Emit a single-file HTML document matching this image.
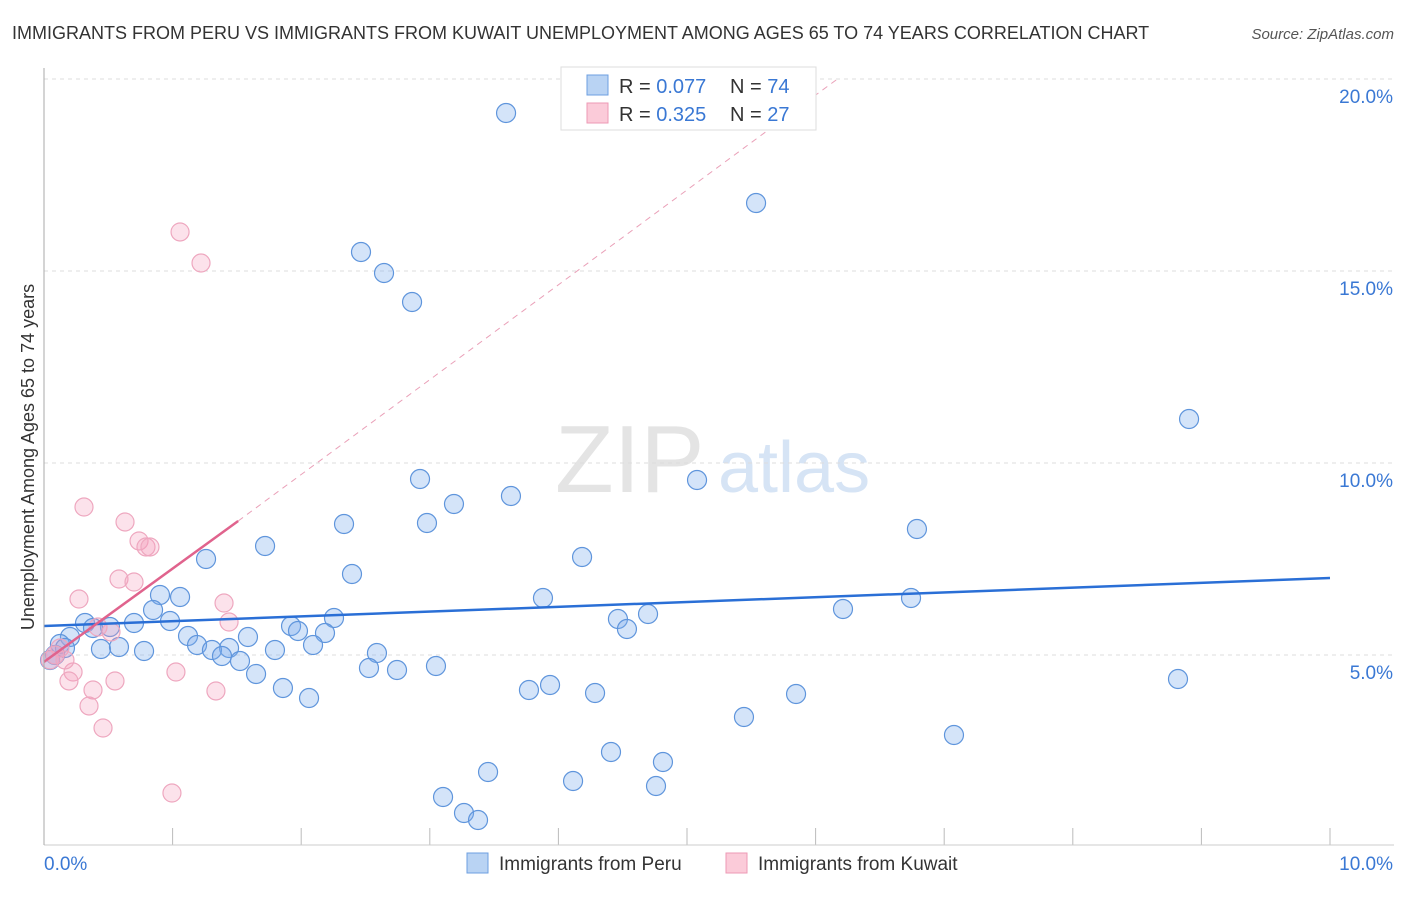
<!DOCTYPE html>
<html><head><meta charset="utf-8"><style>
body{margin:0;background:#fff;font-family:"Liberation Sans",sans-serif;}
svg text{font-family:"Liberation Sans",sans-serif;}
</style></head><body>
<svg id="chart" width="1406" height="892" viewBox="0 0 1406 892">
<text x="12" y="39" font-size="18" fill="#333">IMMIGRANTS FROM PERU VS IMMIGRANTS FROM KUWAIT UNEMPLOYMENT AMONG AGES 65 TO 74 YEARS CORRELATION CHART</text>
<text x="1394" y="39" font-size="15" fill="#555" font-style="italic" text-anchor="end">Source: ZipAtlas.com</text>
<text x="34" y="457" font-size="18" fill="#333" text-anchor="middle" transform="rotate(-90 34 457)">Unemployment Among Ages 65 to 74 years</text>
<text x="555" y="492" font-size="96" fill="#e4e4e4" font-family="Liberation Serif">ZIP</text>
<text x="718" y="492" font-size="72" fill="#d6e4f5">atlas</text>
<g id="grid"></g><g id="pts"></g><g id="lines"></g><g id="axes"></g>
<g>
<rect x="561" y="67" width="255" height="63" fill="#fff" stroke="#ddd"/>
<rect x="587" y="75" width="21" height="20" fill="#b9d3f3" stroke="#6d9fe0"/>
<rect x="587" y="103" width="21" height="20" fill="#fbcbd9" stroke="#ee9ab5"/>
<text x="619" y="93" font-size="20" fill="#333">R = <tspan fill="#3a78d4">0.077</tspan></text>
<text x="730" y="93" font-size="20" fill="#333">N = <tspan fill="#3a78d4">74</tspan></text>
<text x="619" y="121" font-size="20" fill="#333">R = <tspan fill="#3a78d4">0.325</tspan></text>
<text x="730" y="121" font-size="20" fill="#333">N = <tspan fill="#3a78d4">27</tspan></text>
</g>
<g>
<rect x="467" y="853" width="21" height="20" fill="#b9d3f3" stroke="#6d9fe0"/>
<text x="499" y="870" font-size="19" fill="#333">Immigrants from Peru</text>
<rect x="726" y="853" width="21" height="20" fill="#fbcbd9" stroke="#ee9ab5"/>
<text x="758" y="870" font-size="19" fill="#333">Immigrants from Kuwait</text>
</g>
</svg>
<script>
const peruPx=[[506,113],[756,203],[361,252],[384,273],[412,302],[1189,419],[420,479],[697,480],[511,496],[454,504],[344,524],[427,523],[917,529],[265,546],[582,557],[206,559],[352,574],[160,595],[180,597],[543,598],[911,598],[153,610],[843,609],[648,614],[170,621],[334,618],[618,619],[85,623],[134,623],[110,627],[93,628],[291,626],[298,631],[627,629],[325,633],[188,636],[248,637],[70,637],[197,645],[313,645],[101,649],[119,647],[229,648],[144,651],[212,650],[275,650],[377,653],[222,656],[240,661],[60,644],[65,648],[50,660],[55,655],[369,668],[397,670],[436,666],[256,674],[1178,679],[283,688],[550,685],[529,690],[595,693],[309,698],[796,694],[744,717],[954,735],[611,752],[663,762],[488,772],[573,781],[656,786],[443,797],[464,813],[478,820]];
const kuwaitPx=[[84,507],[180,232],[201,263],[125,522],[139,541],[146,547],[150,547],[119,579],[134,582],[79,599],[224,603],[229,622],[111,632],[98,627],[60,648],[55,655],[50,660],[73,672],[176,672],[69,681],[115,681],[93,690],[216,691],[89,706],[103,728],[172,793],[65,660]];
// data values (x in %, y in %) derived from reading the picture
const peruX=peruPx.map(p=>+((p[0]-44)/128.6).toFixed(3));
const peruY=peruPx.map(p=>+((847-p[1])/38.4).toFixed(3));
const kuwaitX=kuwaitPx.map(p=>+((p[0]-44)/128.6).toFixed(3));
const kuwaitY=kuwaitPx.map(p=>+((847-p[1])/38.4).toFixed(3));
const yTicks=[5,10,15,20];
const yTickLabels=["5.0%","10.0%","15.0%","20.0%"];
const peruTrend=[[0,5.755],[10,7.005]];
const kuwaitTrend=[[0,4.82],[1.51,8.49]];
const kuwaitTrendExt=[[1.51,8.49],[6.17,20.0]];
const X=v=>44+v*128.6, Y=v=>847-v*38.4;
const NS="http://www.w3.org/2000/svg";
function mk(tag,attrs,parent){const e=document.createElementNS(NS,tag);for(const k in attrs)e.setAttribute(k,attrs[k]);parent.appendChild(e);return e;}
const grid=document.getElementById('grid'),pts=document.getElementById('pts'),lines=document.getElementById('lines'),axes=document.getElementById('axes');
yTicks.forEach((t,i)=>{
 const l=mk('line',{x1:44,x2:1394,y1:Y(t),y2:Y(t),stroke:'#ddd','stroke-dasharray':'4,4'},grid);
 
 
 const tx=mk('text',{x:1393,y:Y(t)+24,'font-size':19,fill:'#3a78d4','text-anchor':'end'},axes);
 tx.textContent=yTickLabels[i];
 
 
});
for(let i=0;i<=10;i++){
 const l=mk('line',{x1:X(i),x2:X(i),y1:828,y2:845,stroke:'#bbb'},axes);
 
 
}
const ax=mk('line',{x1:44,x2:1394,y1:845,y2:845,stroke:'#ccc'},axes);


const ay=mk('line',{x1:44,x2:44,y1:68,y2:845,stroke:'#aaa'},axes);


const x0=mk('text',{x:44,y:870,'font-size':19,fill:'#3a78d4'},axes);x0.textContent='0.0%';


const x1=mk('text',{x:1393,y:870,'font-size':19,fill:'#3a78d4','text-anchor':'end'},axes);x1.textContent='10.0%';


peruX.forEach((x,i)=>{
 const c=mk('circle',{cx:X(x),cy:Y(peruY[i]),r:9.5,fill:'rgba(120,170,235,0.32)',stroke:'#5f95dc','stroke-width':1.2},pts);
 
 
});
kuwaitX.forEach((x,i)=>{
 const c=mk('circle',{cx:X(x),cy:Y(kuwaitY[i]),r:9,fill:'rgba(245,160,190,0.3)',stroke:'#eea7bf','stroke-width':1.2},pts);
 
 
});
const pl=mk('line',{x1:X(peruTrend[0][0]),y1:Y(peruTrend[0][1]),x2:X(peruTrend[1][0]),y2:Y(peruTrend[1][1]),stroke:'#2a6fd6','stroke-width':2.5},lines);


const kl=mk('line',{x1:X(kuwaitTrend[0][0]),y1:Y(kuwaitTrend[0][1]),x2:X(kuwaitTrend[1][0]),y2:Y(kuwaitTrend[1][1]),stroke:'#e0638d','stroke-width':2.5},lines);


const ke=mk('line',{x1:X(kuwaitTrendExt[0][0]),y1:Y(kuwaitTrendExt[0][1]),x2:X(kuwaitTrendExt[1][0]),y2:Y(kuwaitTrendExt[1][1]),stroke:'#eaa0b8','stroke-width':1,'stroke-dasharray':'6,5'},lines);


</script>
</body></html>
